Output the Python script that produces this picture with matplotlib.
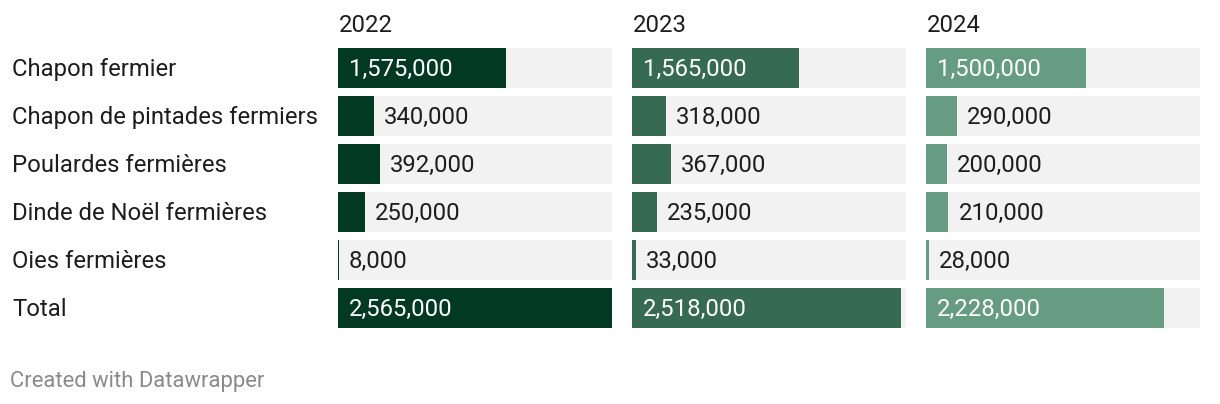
import matplotlib
matplotlib.use("Agg")
import matplotlib.pyplot as plt
from matplotlib import transforms

plt.rcParams['font.family'] = ['Roboto', 'DejaVu Sans']

# === Data ===
categories = ["Chapon fermier", "Chapon de pintades fermiers", "Poulardes fermières",
              "Dinde de Noël fermières", "Oies fermières", "Total"]
years = ["2022", "2023", "2024"]
values_2022 = [1575000, 340000, 392000, 250000, 8000, 2565000]
values_2023 = [1565000, 318000, 367000, 235000, 33000, 2518000]
values_2024 = [1500000, 290000, 200000, 210000, 28000, 2228000]
series = [values_2022, values_2023, values_2024]

colors = ['#023923', '#366a52', '#669c81']
bg_color = '#f2f2f2'
text_color = '#1d1d1d'
fs = 17.2

W, H = 1220, 404
fig = plt.figure(figsize=(W / 100, H / 100), dpi=100)
fig.patch.set_facecolor('white')

xmax = max(max(s) for s in series)
panel_left = [338, 632, 926]
panel_w = 274
top, bottom = 44, 332
n = len(categories)

axes = []
for i, (vals, col) in enumerate(zip(series, colors)):
    ax = fig.add_axes([panel_left[i] / W, (H - bottom) / H, panel_w / W, (bottom - top) / H])
    ax.set_xlim(0, xmax)
    ax.set_ylim(n - 0.5, -0.5)
    ax.axis('off')
    ypos = list(range(n))
    ax.barh(ypos, [xmax] * n, height=40 / 48, color=bg_color, linewidth=0)
    ax.barh(ypos, vals, height=40 / 48, color=col, linewidth=0)

    inside = transforms.offset_copy(ax.transData, fig=fig, x=11, y=1, units='dots')
    outside = transforms.offset_copy(ax.transData, fig=fig, x=10, y=1, units='dots')
    for y, v in zip(ypos, vals):
        label = f"{v:,}"
        if v > 1000000:
            ax.text(0, y, label, transform=inside, ha='left', va='center_baseline',
                    color='white', fontsize=fs)
        else:
            ax.text(v, y, label, transform=outside, ha='left', va='center_baseline',
                    color=text_color, fontsize=fs)

    fig.text((panel_left[i] + 1) / W, 1 - 25 / H, years[i], ha='left', va='center',
             color=text_color, fontsize=fs)
    axes.append(ax)

# Row labels
lbl_tr = transforms.offset_copy(
    transforms.blended_transform_factory(fig.transFigure, axes[0].transData),
    fig=fig, x=0, y=1, units='dots')
for y, cat in enumerate(categories):
    axes[0].text(12 / W, y, cat, transform=lbl_tr, ha='left', va='center_baseline',
                 color=text_color, fontsize=fs)

fig.text(10 / W, 1 - 381 / H, "Created with Datawrapper", ha='left', va='center',
         color='#8a8a8a', fontsize=15.8)

fig.savefig("out.png", dpi=100, facecolor='white')
